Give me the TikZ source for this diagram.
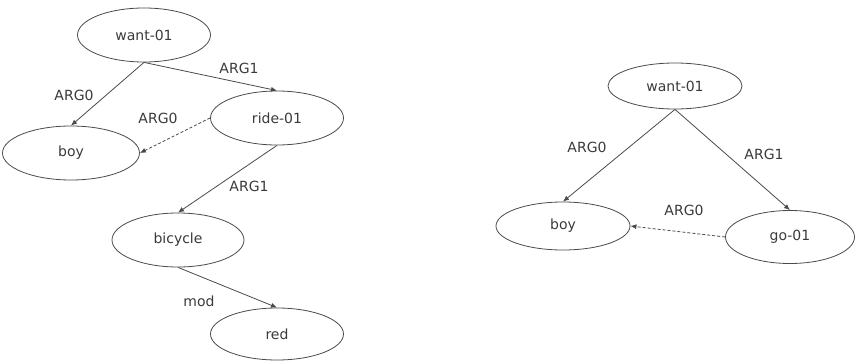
\documentclass[tikz,border=0pt]{standalone}
\usepackage{fontspec}
\setmainfont{DejaVu Sans}
\usetikzlibrary{shapes.geometric,arrows.meta}
\definecolor{inkgray}{HTML}{3A3A3A}
\definecolor{linegray}{HTML}{4A4A4A}
\begin{document}
\begin{tikzpicture}[x=1pt,y=-1pt,
  concept/.style={ellipse,draw=linegray,line width=0.8pt,inner sep=0pt,
    text=inkgray,font=\fontsize{14}{16}\selectfont},
  rel/.style={draw=linegray,line width=0.8pt,-{Latex[length=6pt,width=5pt]}},
  reent/.style={rel,dashed,dash pattern=on 3pt off 2pt},
  lbl/.style={text=inkgray,font=\fontsize{14}{16}\selectfont,inner sep=0pt}]
\useasboundingbox (0,0) rectangle (857,361);

% left graph
\node[concept,minimum width=133pt,minimum height=54pt] (w1) at (144,35) {want-01};
\node[concept,minimum width=137pt,minimum height=54pt] (b1) at (71,153) {boy};
\node[concept,minimum width=133pt,minimum height=54pt] (r1) at (277,118) {ride-01};
\node[concept,minimum width=132pt,minimum height=54pt] (c1) at (178,240) {bicycle};
\node[concept,minimum width=133pt,minimum height=52pt] (d1) at (277,334) {red};

\draw[rel] (w1.south) -- (b1.north);
\draw[rel] (w1.south) -- (r1.north);
\draw[reent] (r1.west) -- (b1.east);
\draw[rel] (r1.south) -- (c1.north);
\draw[rel] (c1.south) -- (d1.north);

\node[lbl] (l1) at (74,95) {ARG0};
\node[lbl] (l2) at (239,68) {ARG1};
\node[lbl] (l3) at (158,118) {ARG0};
\node[lbl] (l4) at (249,186) {ARG1};
\node[lbl] (l5) at (199,301) {mod};

% right graph
\node[concept,minimum width=134pt,minimum height=46pt] (w2) at (675,86) {want-01};
\node[concept,minimum width=134pt,minimum height=48pt] (b2) at (563,226) {boy};
\node[concept,minimum width=129pt,minimum height=53pt] (g2) at (790,237) {go-01};

\draw[rel] (w2.south) -- (b2.north);
\draw[rel] (w2.south) -- (g2.north);
\draw[reent] (g2.west) -- (b2.east);

\node[lbl] (l6) at (587,147) {ARG0};
\node[lbl] (l7) at (764,154) {ARG1};
\node[lbl] (l8) at (684,210) {ARG0};
\end{tikzpicture}
\end{document}
